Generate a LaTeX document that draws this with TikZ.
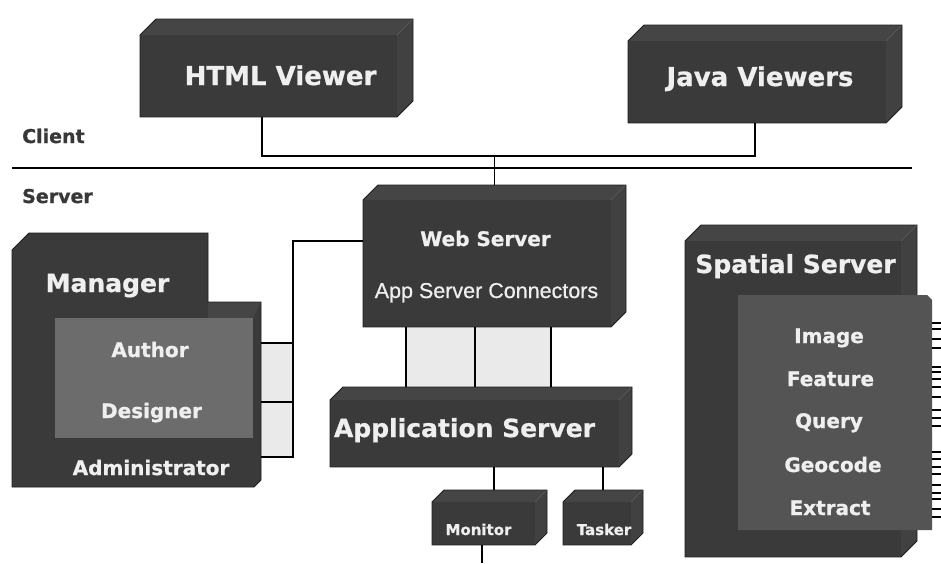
\documentclass[tikz,border=0pt]{standalone}
\usepackage{fontspec}
\setmainfont{DejaVu Sans}[BoldFeatures={FakeBold=0.8}]
\newfontfamily\connfont{Liberation Sans}[FakeBold=0.6]
\usetikzlibrary{calc}

\definecolor{boxfront}{HTML}{3A3A3A}
\definecolor{boxtop}{HTML}{454545}
\definecolor{boxside}{HTML}{414141}
\definecolor{boxedge}{HTML}{1E1E1E}
\definecolor{panel}{HTML}{6C6C6C}
\definecolor{panelsp}{HTML}{545454}
\definecolor{labeltext}{HTML}{EFEFEF}
\definecolor{tiertext}{HTML}{383838}
\definecolor{pane}{HTML}{EAEAEA}

% extruded box: name, x0, y0, x1, y1, depth
\newcommand\prismbox[6]{%
  \fill[boxfront] (#2,#3+#6) rectangle (#4-#6,#5);
  \fill[boxtop] (#2,#3+#6) -- (#2+#6,#3) -- (#4,#3) -- (#4-#6,#3+#6) -- cycle;
  \fill[boxside] (#4-#6,#3+#6) -- (#4,#3) -- (#4,#5-#6) -- (#4-#6,#5) -- cycle;
  \draw[boxedge, line width=0.8pt] (#2,#3+#6) -- (#2+#6,#3) -- (#4,#3) -- (#4,#5-#6) -- (#4-#6,#5) -- (#2,#5) -- cycle;
  \node[inner sep=0pt, minimum width={(#4-#2)*1pt}, minimum height={(#5-#3)*1pt}] (#1) at ({(#2+#4)/2},{(#3+#5)/2}) {};
}

\tikzset{
  txt/.style={anchor=base, inner sep=0pt, text=labeltext},
  big/.style={txt, font=\bfseries\fontsize{26}{30}\selectfont},
  large/.style={txt, font=\bfseries\fontsize{25}{30}\selectfont},
  mid/.style={txt, font=\bfseries\fontsize{20}{24}\selectfont},
  small/.style={txt, font=\bfseries\fontsize{15}{18}\selectfont},
  conn/.style={txt, font=\connfont\fontsize{21.5}{25}\selectfont},
  tier/.style={anchor=base west, inner sep=0pt, text=tiertext, font=\bfseries\fontsize{19}{22}\selectfont},
  wire/.style={draw=black, line width=1.3pt},
}

\begin{document}
\begin{tikzpicture}[x=1pt, y=-1pt]
\useasboundingbox (0,0) rectangle (941,563);
\fill[white] (0,0) rectangle (941,563);

% shaded panes between parallel wires
\fill[pane] (261,343) rectangle (293,457);
\fill[pane] (406,327) rectangle (551,388);

% client tier
\prismbox{html}{140}{19}{413}{117}{16}
\node[big] (htmllbl) at (280.5,85) {HTML Viewer};
\prismbox{java}{628}{25}{902}{123}{16}
\node[big] (javalbl) at (760,86) {Java Viewers};

\node[tier] (client) at (22,143) {Client};
\node[tier] (server) at (22,203) {Server};

% server tier
\prismbox{web}{363}{185}{626}{327}{15}
\node[mid] (weblbl) at (485.5,246) {Web Server};
\node[conn] (connlbl) at (486.5,298) {App Server Connectors};

\prismbox{app}{330}{387}{632}{467}{13}
\node[large] (applbl) at (464.5,437) {Application Server};

\prismbox{mon}{432}{490}{547}{545}{12}
\node[small] (monlbl) at (478.5,535) {Monitor};
\prismbox{task}{563}{490}{643}{545}{12}
\node[small] (tasklbl) at (604,535) {Tasker};

% manager block
\fill[boxfront] (12,250) -- (29,233) -- (208,233) -- (208,302) -- (261,302) -- (261,480) -- (254,487) -- (12,487) -- cycle;
\fill[boxtop] (208,302) -- (261,302) -- (253,318) -- (208,318) -- cycle;
\draw[boxedge, line width=0.8pt] (12,250) -- (29,233) -- (208,233) -- (208,302) -- (261,302) -- (261,480) -- (254,487) -- (12,487) -- cycle;
\fill[panel] (55,318) rectangle (253,438);
\node[inner sep=0pt, minimum width=249pt, minimum height=254pt] (manager) at (136.5,360) {};
\node[large] (mgrlbl) at (107.5,292) {Manager};
\node[mid] (author) at (150,357) {Author};
\node[mid] (designer) at (151.5,418) {Designer};
\node[mid] (admin) at (151,475) {Administrator};

% spatial server block
\prismbox{spatial}{685}{225}{917}{557}{16}
\fill[panelsp] (738,295) -- (927,295) -- (932,300) -- (932,530) -- (738,530) -- cycle;
\node[inner sep=0pt, minimum width=194pt, minimum height=235pt] (engines) at (835,412.5) {};
\node[large] (spatlbl) at (795.5,273) {Spatial Server};
\node[mid] (image) at (829,343) {Image};
\node[mid] (feature) at (830.5,386) {Feature};
\node[mid] (query) at (829,428) {Query};
\node[mid] (geocode) at (833,472) {Geocode};
\node[mid] (extract) at (830,515) {Extract};

% tier separator
\coordinate (sepL) at (12,168);
\coordinate (sepR) at (912,168);
\draw[wire] (sepL) -- (sepR);

% viewers to web server
\coordinate (bus) at (494.5,156);
\draw[wire] ([xshift=-14.5pt]html.south) |- (bus) -| ([xshift=-10pt]java.south);
\draw[wire] (bus) -- (web.north);

% web server to manager
\coordinate (trunk) at (293,457);
\coordinate (mp1) at (261,343);
\coordinate (mp2) at (261,402);
\coordinate (mp3) at (261,457);
\draw[wire] ([yshift=15pt]web.west) -| (trunk) -- (mp3);
\draw[wire] (mp1) -- (mp1 -| trunk);
\draw[wire] (mp2) -- (mp2 -| trunk);

% web server to application server
\foreach \s in {-88.5,-19.5,56.5}
  \draw[wire] ([xshift=\s pt]web.south) -- ([xshift=\s pt]web.south |- app.north);

% application server to monitor and tasker
\draw[wire] ([xshift=4.5pt]mon.north |- app.south) -- ([xshift=4.5pt]mon.north);
\draw[wire] (task.north |- app.south) -- (task.north);
\coordinate (monout) at (482,563);
\draw[wire] ([xshift=-7.5pt]mon.south) -- (monout);

% spatial server output lines
\foreach \y in {323,329,339,348,367,372,379,387,397,410,418,426,452,459,467,474,485,493,499,509,517}
  \draw[black, line width=1.2pt] (engines.east |- 0,\y) -- ++(9,0);
\end{tikzpicture}
\end{document}
